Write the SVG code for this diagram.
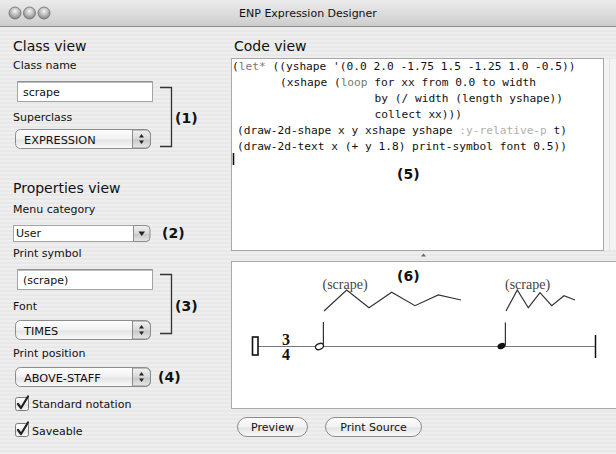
<svg xmlns="http://www.w3.org/2000/svg" width="616" height="454" viewBox="0 0 616 454">
  <defs>
    <pattern id="pinstripe" width="4" height="4" patternUnits="userSpaceOnUse">
      <rect width="4" height="2" fill="#eeeeee"/>
      <rect y="2" width="4" height="2" fill="#e8e8e8"/>
    </pattern>
    <linearGradient id="titleGrad" x1="0" y1="0" x2="0" y2="1">
      <stop offset="0" stop-color="#ececec"/>
      <stop offset="1" stop-color="#cdcdcd"/>
    </linearGradient>
    <radialGradient id="lightGrad" cx="0.5" cy="0.35" r="0.6">
      <stop offset="0" stop-color="#f4f4f4"/>
      <stop offset="0.6" stop-color="#b8b8b8"/>
      <stop offset="1" stop-color="#8a8a8a"/>
    </radialGradient>
    <linearGradient id="btnGrad" x1="0" y1="0" x2="0" y2="1">
      <stop offset="0" stop-color="#ffffff"/>
      <stop offset="0.5" stop-color="#f0f0f0"/>
      <stop offset="0.55" stop-color="#e4e4e4"/>
      <stop offset="1" stop-color="#fafafa"/>
    </linearGradient>
    <linearGradient id="arrowGrad" x1="0" y1="0" x2="0" y2="1">
      <stop offset="0" stop-color="#f2f2f2"/>
      <stop offset="0.5" stop-color="#d8d8d8"/>
      <stop offset="0.55" stop-color="#c8c8c8"/>
      <stop offset="1" stop-color="#e8e8e8"/>
    </linearGradient>
    <g id="updown">
      <path d="M-2.5,-1.5 L2.5,-1.5 L0,-5 Z M-2.5,1.5 L2.5,1.5 L0,5 Z" fill="#222"/>
    </g>
    <g id="checkbox">
      <rect x="0" y="0" width="13" height="13" rx="2" fill="url(#btnGrad)" stroke="#7a7a7a"/>
      <path d="M2.5,6.5 L5.5,10.5 L12.5,-1" fill="none" stroke="#222" stroke-width="2.2" stroke-linecap="round" stroke-linejoin="round"/>
    </g>
  </defs>
  <style>
    .ui { font-family: "DejaVu Sans", "Noto Sans", sans-serif; fill: #111; }
    .head { font-size: 14px; }
    .lbl { font-size: 11px; }
    .ctl { font-size: 11.3px; }
    .num { font-family: "DejaVu Sans", sans-serif; font-size: 14px; font-weight: bold; fill: #111; }
    .code { font-family: "DejaVu Sans Mono", "Liberation Mono", monospace; font-size: 11.2px; fill: #111; }
    .kw { fill: #777; }
    .kwarg { fill: #b0b0b0; }
    .field { fill: #ffffff; stroke: #a4a4a4; stroke-width: 1; }
    .popup { fill: url(#btnGrad); stroke: #8c8c8c; stroke-width: 1; }
    .pane { fill: #ffffff; stroke: #a8a8a8; stroke-width: 1; }
    .bracket { fill: none; stroke: #333; stroke-width: 1.3; }
    .staff { stroke: #777; stroke-width: 1.2; fill: none; }
    .ink { stroke: #333; stroke-width: 1.2; fill: none; }
    .expr { font-family: "Liberation Serif", "Times New Roman", serif; font-size: 14px; fill: #444; }
    .tsig { font-family: "Liberation Serif", "Times New Roman", serif; font-size: 16px; font-weight: bold; fill: #111; }
  </style>

  <!-- window body -->
  <rect x="0" y="0" width="616" height="454" fill="url(#pinstripe)"/>

  <!-- title bar -->
  <g id="titlebar">
    <rect x="0" y="0" width="616" height="26" fill="url(#titleGrad)"/>
    <line x1="0" y1="26.5" x2="616" y2="26.5" stroke="#8e8e8e"/>
    <circle cx="15" cy="13" r="6" fill="url(#lightGrad)" stroke="#6e6e6e" stroke-width="0.8"/>
    <circle cx="29.5" cy="13" r="6" fill="url(#lightGrad)" stroke="#6e6e6e" stroke-width="0.8"/>
    <circle cx="44" cy="13" r="6" fill="url(#lightGrad)" stroke="#6e6e6e" stroke-width="0.8"/>
    <text class="ui" x="308" y="17" font-size="11" text-anchor="middle">ENP Expression Designer</text>
  </g>

  <!-- class view -->
  <g id="class-view">
    <text class="ui head" x="13" y="51">Class view</text>
    <text class="ui lbl" x="13" y="69">Class name</text>
    <rect class="field" x="17.5" y="81.5" width="135" height="20"/>
    <line x1="18" y1="82" x2="152" y2="82" stroke="#7c7c7c"/>
    <text class="ui lbl" x="23" y="96">scrape</text>
    <text class="ui lbl" x="13" y="121">Superclass</text>
    <rect class="popup" x="15.5" y="129.5" width="135" height="19" rx="5"/>
    <path d="M132.5,130 L145.5,130 A5,5 0 0 1 150.5,135 L150.5,143 A5,5 0 0 1 145.5,148 L132.5,148 Z" fill="url(#arrowGrad)" stroke="#8c8c8c"/>
    <use href="#updown" x="141.5" y="139"/>
    <text class="ui ctl" x="24" y="143.5">EXPRESSION</text>
    <path class="bracket" d="M160,87.5 H171.5 V146.5 H160"/>
    <text class="num" x="175" y="123">(1)</text>
  </g>

  <!-- properties view -->
  <g id="properties-view">
    <text class="ui head" x="13" y="193">Properties view</text>
    <text class="ui lbl" x="13" y="213">Menu category</text>
    <rect class="field" x="13.5" y="225.5" width="120" height="16"/>
    <path d="M133.5,225.5 L146,225.5 A4,4 0 0 1 150,229.5 L150,237.5 A4,4 0 0 1 146,241.5 L133.5,241.5 Z" fill="url(#arrowGrad)" stroke="#8c8c8c"/>
    <path d="M138.5,231.5 L145,231.5 L141.75,236 Z" fill="#222"/>
    <text class="ui lbl" x="16" y="237">User</text>
    <text class="num" x="162" y="238">(2)</text>

    <text class="ui lbl" x="13" y="257">Print symbol</text>
    <rect class="field" x="17.5" y="269.5" width="135" height="20"/>
    <line x1="18" y1="270" x2="152" y2="270" stroke="#7c7c7c"/>
    <text class="ui lbl" x="23" y="284">(scrape)</text>
    <text class="ui lbl" x="13" y="310">Font</text>
    <rect class="popup" x="15.5" y="320.5" width="135" height="19" rx="5"/>
    <path d="M132.5,321 L145.5,321 A5,5 0 0 1 150.5,326 L150.5,334 A5,5 0 0 1 145.5,339 L132.5,339 Z" fill="url(#arrowGrad)" stroke="#8c8c8c"/>
    <use href="#updown" x="141.5" y="330"/>
    <text class="ui ctl" x="24" y="334.5">TIMES</text>
    <path class="bracket" d="M160,274.5 H171.5 V333.5 H160"/>
    <text class="num" x="175" y="311">(3)</text>

    <text class="ui lbl" x="13" y="357">Print position</text>
    <rect class="popup" x="15.5" y="367.5" width="135" height="19" rx="5"/>
    <path d="M132.5,368 L145.5,368 A5,5 0 0 1 150.5,373 L150.5,381 A5,5 0 0 1 145.5,386 L132.5,386 Z" fill="url(#arrowGrad)" stroke="#8c8c8c"/>
    <use href="#updown" x="141.5" y="377"/>
    <text class="ui ctl" x="24" y="381.5">ABOVE-STAFF</text>
    <text class="num" x="158" y="382">(4)</text>

    <use href="#checkbox" x="15.5" y="397.5"/>
    <text class="ui lbl" x="32" y="408">Standard notation</text>
    <use href="#checkbox" x="15.5" y="423.5"/>
    <text class="ui lbl" x="32" y="435">Saveable</text>
  </g>

  <!-- code view -->
  <g id="code-view">
    <text class="ui head" x="234" y="51">Code view</text>
    <rect class="pane" x="231.5" y="58.5" width="372" height="192"/>
    <rect x="604" y="59" width="12" height="191" fill="#f3f3f3"/>
    <line x1="609.5" y1="59" x2="609.5" y2="250" stroke="#e2e2e2"/>
    <text class="code" x="232" y="70" xml:space="preserve">(<tspan class="kw">let*</tspan> ((yshape '(0.0 2.0 -1.75 1.5 -1.25 1.0 -0.5))</text>
    <text class="code" x="280" y="86" xml:space="preserve">(xshape (<tspan class="kw">loop</tspan> for xx from 0.0 to width</text>
    <text class="code" x="374.5" y="102">by (/ width (length yshape))</text>
    <text class="code" x="374.5" y="118">collect xx)))</text>
    <text class="code" x="237" y="134" xml:space="preserve">(draw-2d-shape x y xshape yshape <tspan class="kwarg">:y-relative-p</tspan> t)</text>
    <text class="code" x="237" y="150">(draw-2d-text x (+ y 1.8) print-symbol font 0.5))</text>
    <line x1="233.5" y1="153" x2="233.5" y2="165" stroke="#111" stroke-width="1.6"/>
    <text class="num" x="397" y="179" font-weight="normal" font-size="15">(5)</text>
  </g>

  <!-- split view handle -->
  <path d="M421,256.5 L423.5,253.5 L426,256.5 Z" fill="#666"/>

  <!-- notation preview -->
  <g id="notation-view">
    <rect class="pane" x="231.5" y="261.5" width="400" height="147"/>
    <text class="num" x="397" y="281" font-weight="normal" font-size="15">(6)</text>
    <!-- staff line, clef, barline -->
    <line class="staff" x1="252" y1="346.5" x2="595" y2="346.5"/>
    <rect x="252.5" y="337" width="5.5" height="18" fill="#fff" stroke="#111" stroke-width="1.6"/>
    <line x1="595.5" y1="335" x2="595.5" y2="358" stroke="#111" stroke-width="1.5"/>
    <text class="tsig" x="286" y="344.5" text-anchor="middle">3</text>
    <text class="tsig" x="286" y="360" text-anchor="middle">4</text>
    <!-- notes -->
    <ellipse cx="319.5" cy="346.5" rx="4.2" ry="2.8" transform="rotate(-25 319.5 346.5)" fill="#fff" stroke="#222" stroke-width="1.3"/>
    <line class="ink" x1="323.4" y1="322" x2="323.4" y2="345"/>
    <ellipse cx="501.5" cy="346" rx="4.2" ry="2.9" transform="rotate(-25 501.5 346)" fill="#111"/>
    <line class="ink" x1="505.4" y1="322.5" x2="505.4" y2="345"/>
    <!-- scrape expressions -->
    <polyline class="ink" points="324,311 346.7,290 369,307.7 391.7,292.3 415,305.7 438.3,295 461,300"/>
    <text class="expr" x="322.5" y="288.5">(scrape)</text>
    <polyline class="ink" points="506,311 517.3,290 528.3,307.7 540,292.7 551.7,305.7 564,295.7 575,300"/>
    <text class="expr" x="505" y="288.5">(scrape)</text>
  </g>

  <!-- buttons -->
  <g id="button-preview">
    <rect x="237.5" y="417.5" width="70" height="19" rx="9.5" fill="url(#btnGrad)" stroke="#8a8a8a"/>
    <text class="ui lbl" x="272.5" y="431" text-anchor="middle">Preview</text>
  </g>
  <g id="button-print-source">
    <rect x="325.5" y="417.5" width="96" height="19" rx="9.5" fill="url(#btnGrad)" stroke="#8a8a8a"/>
    <text class="ui lbl" x="373.5" y="431" text-anchor="middle">Print Source</text>
  </g>
</svg>
